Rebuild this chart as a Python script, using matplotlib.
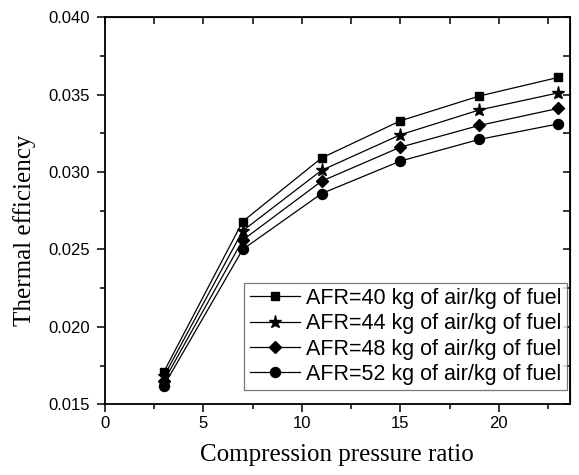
import matplotlib
matplotlib.use("Agg")
import matplotlib.pyplot as plt
from matplotlib.ticker import MultipleLocator

# Data
pressure_ratio = [3, 7, 11, 15, 19, 23]
eff_afr40 = [0.0171, 0.0268, 0.0309, 0.0333, 0.0349, 0.0361]
eff_afr44 = [0.0168, 0.0262, 0.0301, 0.0324, 0.0340, 0.0351]
eff_afr48 = [0.0165, 0.0256, 0.0294, 0.0316, 0.0330, 0.0341]
eff_afr52 = [0.0162, 0.0250, 0.0286, 0.0307, 0.0321, 0.0331]

series = [
    (eff_afr40, "s", 6, "AFR=40 kg of air/kg of fuel"),
    (eff_afr44, "*", 9.5, "AFR=44 kg of air/kg of fuel"),
    (eff_afr48, "D", 6, "AFR=48 kg of air/kg of fuel"),
    (eff_afr52, "o", 7.2, "AFR=52 kg of air/kg of fuel"),
]

plt.rcParams["font.family"] = ["Liberation Sans", "DejaVu Sans"]

fig = plt.figure(figsize=(5.79, 4.75), dpi=100)
ax = fig.add_axes([0.181, 0.149, 0.803, 0.815])

for values, marker, ms, label in series:
    ax.plot(pressure_ratio, values, color="black", linewidth=0.9,
            marker=marker, markersize=ms, label=label)

ax.set_xlim(0, 23.6)
ax.set_ylim(0.015, 0.040)
ax.xaxis.set_major_locator(MultipleLocator(5))
ax.xaxis.set_minor_locator(MultipleLocator(2.5))
ax.yaxis.set_major_locator(MultipleLocator(0.005))
ax.yaxis.set_minor_locator(MultipleLocator(0.0025))
ax.yaxis.set_major_formatter(plt.FormatStrFormatter("%.3f"))

ax.tick_params(which="both", direction="out", labelsize=12, width=1.1, pad=5)
ax.tick_params(axis="x", pad=2.5)
ax.tick_params(which="major", length=6)
ax.tick_params(which="minor", length=3.5)
for sp in ax.spines.values():
    sp.set_linewidth(1.3)

# top and right ticks point inward
top = ax.secondary_xaxis("top")
top.xaxis.set_major_locator(MultipleLocator(2.5))
top.tick_params(direction="in", length=5, width=1.1, labeltop=False)
right = ax.secondary_yaxis("right")
right.yaxis.set_major_locator(MultipleLocator(0.0025))
right.tick_params(direction="in", length=5, width=1.1, labelright=False)

ax.set_xlabel("Compression pressure ratio", family="Liberation Serif",
              fontsize=18, labelpad=9)
ax.set_ylabel("Thermal efficiency", family="Liberation Serif", fontsize=18)
ax.yaxis.set_label_coords(-0.148, 0.45)

leg = ax.legend(loc="lower right", bbox_to_anchor=(0.9935, 0.036),
                fontsize=15.5, frameon=True, fancybox=False,
                edgecolor="#555555", handlelength=2.35, handletextpad=0.25,
                borderpad=0.25, labelspacing=0.2, borderaxespad=0)
leg.get_frame().set_linewidth(0.9)

fig.savefig("out.png", dpi=100)
